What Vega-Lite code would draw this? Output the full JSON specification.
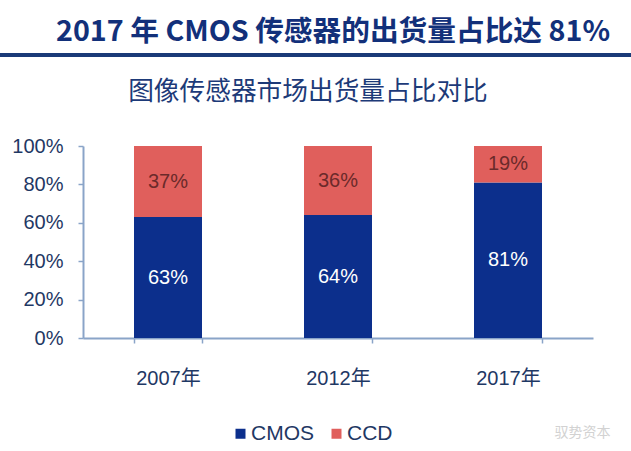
{
  "$schema": "https://vega.github.io/schema/vega-lite/v6.json",
  "padding": {"left": 0, "top": 18, "right": 0, "bottom": 0},
  "spacing": 22,
  "background": "white",
  "config": {"view": {"stroke": null}, "font": "Liberation Sans"},
  "vconcat": [
    {
      "width": 548,
      "height": 4,
      "title": {"text": "2017 年 CMOS 传感器的出货量占比达 81%", "fontSize": 28.7, "font": "Noto Sans CJK SC", "fontWeight": "bold", "color": "#12307a", "anchor": "middle", "dx": -24, "offset": 6},
      "data": {"values": [{"a": 0, "b": 1}]},
      "mark": {"type": "rect", "color": "#1a3a78", "clip": false},
      "encoding": {
        "x": {"field": "a", "type": "quantitative", "scale": {"domain": [0, 1], "range": [-83, 548], "nice": false}, "axis": null},
        "x2": {"field": "b"},
        "y": {"datum": 0, "type": "quantitative", "scale": {"domain": [0, 1], "nice": false}, "axis": null},
        "y2": {"datum": 1}
      }
    },
    {
      "width": 510,
      "height": 192,
      "title": {"text": "图像传感器市场出货量占比对比", "fontSize": 25.7, "font": "Noto Sans CJK SC", "fontWeight": "normal", "color": "#1d3a78", "anchor": "middle", "dx": -30, "offset": 30},
      "data": {"values": [
        {"year": "2007年", "type": "CMOS", "share": 0.63},
        {"year": "2007年", "type": "CCD", "share": 0.37},
        {"year": "2012年", "type": "CMOS", "share": 0.64},
        {"year": "2012年", "type": "CCD", "share": 0.36},
        {"year": "2017年", "type": "CMOS", "share": 0.81},
        {"year": "2017年", "type": "CCD", "share": 0.19}
      ]},
      "encoding": {
        "x": {
          "field": "year", "type": "nominal", "sort": null,
          "scale": {"paddingInner": 0.6, "paddingOuter": 0.3},
          "axis": {
            "title": "驭势资本", "labelAngle": 0, "labelFontSize": 20, "labelColor": "#1f3864",
            "labelFont": "Liberation Sans, Noto Sans CJK SC", "labelPadding": 25,
            "domainColor": "#8aa4c8", "domainWidth": 2, "tickColor": "#8aa4c8", "tickWidth": 1.5,
            "tickSize": 5, "tickBand": "extent",
            "titleColor": "#d2d2d2", "titleFont": "Noto Sans CJK SC", "titleFontSize": 14,
            "titleFontWeight": "normal", "titleX": 527, "titleY": 94, "titleAlign": "right",
            "titleBaseline": "middle"
          }
        }
      },
      "layer": [
        {
          "mark": {"type": "bar"},
          "encoding": {
            "y": {
              "field": "share", "type": "quantitative", "stack": "zero",
              "scale": {"domain": [0, 1], "nice": false},
              "axis": {
                "title": null, "values": [0, 0.2, 0.4, 0.6, 0.8, 1], "format": ".0%",
                "labelFontSize": 20, "labelColor": "#1f3864", "labelPadding": 15,
                "tickSize": 5, "tickColor": "#8aa4c8", "tickWidth": 1.5,
                "domainColor": "#8aa4c8", "domainWidth": 2, "grid": false, "minExtent": 83
              }
            },
            "color": {
              "field": "type", "type": "nominal", "sort": ["CMOS", "CCD"],
              "scale": {"domain": ["CMOS", "CCD"], "range": ["#0c2f8c", "#e05f5c"]},
              "legend": {
                "title": null, "orient": "none", "direction": "horizontal",
                "legendX": 147, "legendY": 370, "padding": 0,
                "symbolType": "square", "symbolSize": 100, "symbolStrokeWidth": 0,
                "labelFontSize": 21, "labelFont": "Liberation Sans", "labelColor": "#1f3864",
                "labelOffset": 0, "columnPadding": 12
              }
            }
          }
        },
        {
          "transform": [{"filter": "datum.type === 'CMOS'"}],
          "mark": {"type": "text", "color": "white", "fontSize": 20, "font": "Liberation Sans"},
          "encoding": {
            "y": {"field": "share", "type": "quantitative", "stack": null, "scale": {"domain": [0, 2], "nice": false}, "axis": null},
            "text": {"field": "share", "type": "quantitative", "format": ".0%"}
          }
        },
        {
          "transform": [{"filter": "datum.type === 'CCD'"}],
          "mark": {"type": "text", "color": "#6b2a2a", "fontSize": 20, "font": "Liberation Sans"},
          "encoding": {
            "y": {"field": "share", "type": "quantitative", "stack": null, "scale": {"domain": [0, 2], "nice": false, "reverse": true}, "axis": null},
            "text": {"field": "share", "type": "quantitative", "format": ".0%"}
          }
        }
      ],
      "resolve": {"scale": {"y": "independent"}}
    }
  ]
}
